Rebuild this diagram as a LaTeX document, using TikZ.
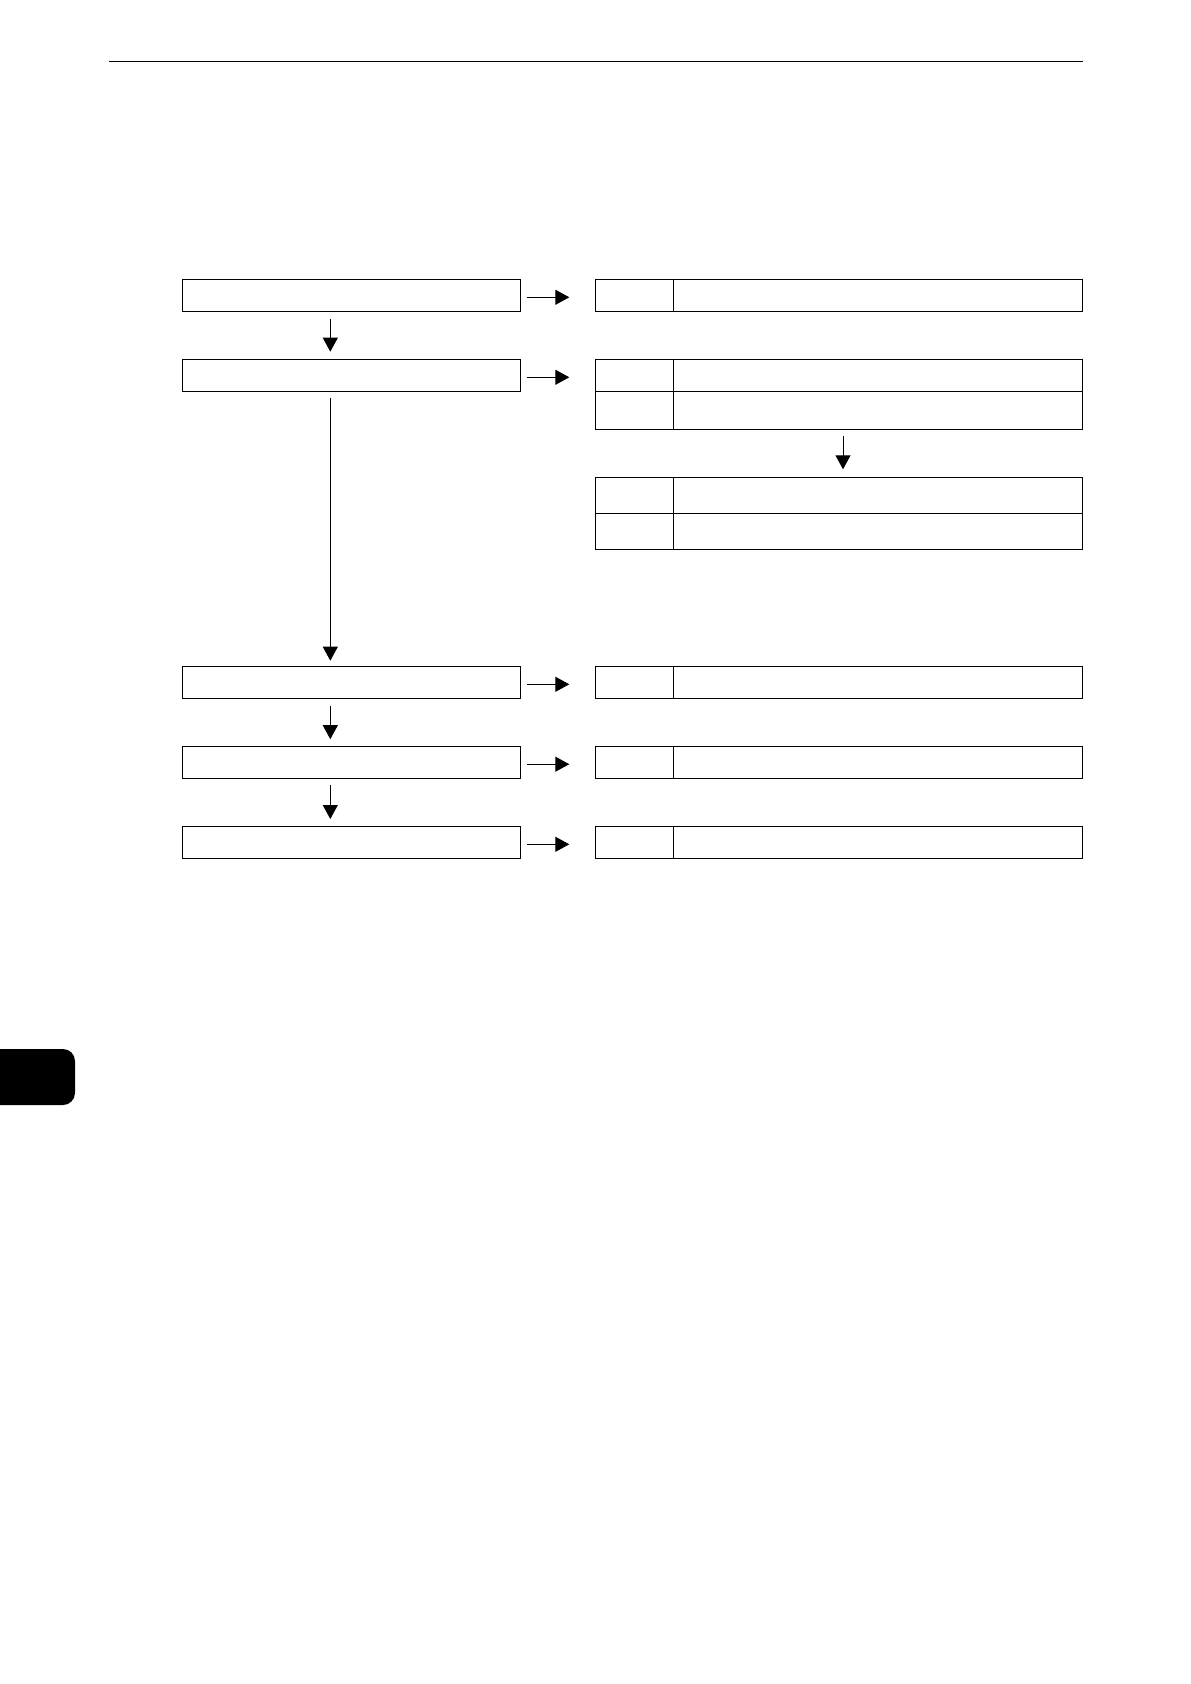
\documentclass[tikz,border=0pt]{standalone}
\usepackage{tikz}
\usetikzlibrary{arrows.meta}

\begin{document}
\begin{tikzpicture}[x=0.5pt, y=-0.5pt, line width=0.7pt,
  stepbox/.style={draw, rectangle, inner sep=0pt, outer sep=0pt, minimum width=169.2pt, minimum height=16pt},
  keybox/.style={draw, rectangle, inner sep=0pt, outer sep=0pt, minimum width=39pt, minimum height=#1},
  keybox/.default=16pt,
  infobox/.style={draw, rectangle, inner sep=0pt, outer sep=0pt, minimum width=204.7pt, minimum height=#1},
  infobox/.default=16pt,
  flow/.style={line width=0.45pt, -{Triangle[length=7pt, width=7.5pt]}}]

\useasboundingbox (0,0) rectangle (1190,1684);

%page header and tab
\draw[line width=0.65pt] (109,61.3) -- (1082.7,61.3);
\fill[rounded corners=6pt] (-20,1049) rectangle (75,1105);

%steps
\node[stepbox] at (351.5, 295.3)(l1){};
\node[stepbox] at (351.5, 375.3)(l2){};
\node[stepbox] at (351.5, 682.3)(l3){};
\node[stepbox] at (351.5, 762.2)(l4){};
\node[stepbox] at (351.5, 842.3)(l5){};

%key cells
\node[keybox] at (634.3, 295.3)(k1){};
\node[keybox] at (634.3, 375.3)(k2){};
\node[keybox=19pt] at (634.3, 410.3)(k3){};
\node[keybox=18pt] at (634.3, 495.3)(k4){};
\node[keybox=18pt] at (634.3, 531.3)(k5){};
\node[keybox] at (634.3, 682.3)(k6){};
\node[keybox] at (634.3, 762.2)(k7){};
\node[keybox] at (634.3, 842.3)(k8){};

%info cells
\node[infobox] at (878, 295.3)(w1){};
\node[infobox] at (878, 375.3)(w2){};
\node[infobox=19pt] at (878, 410.3)(w3){};
\node[infobox=18pt] at (878, 495.3)(w4){};
\node[infobox=18pt] at (878, 531.3)(w5){};
\node[infobox] at (878, 682.3)(w6){};
\node[infobox] at (878, 762.2)(w7){};
\node[infobox] at (878, 842.3)(w8){};

%arrows to the right
\draw[flow, shorten <=3pt, shorten >=13pt] ([yshift=-1pt]l1.east) -- ([yshift=-1pt]k1.west);
\draw[flow, shorten <=3pt, shorten >=13pt] ([yshift=-1pt]l2.east) -- ([yshift=-1pt]k2.west);
\draw[flow, shorten <=3pt, shorten >=13pt] ([yshift=-1pt]l3.east) -- ([yshift=-1pt]k6.west);
\draw[flow, shorten <=3pt, shorten >=13pt] ([yshift=-1pt]l4.east) -- ([yshift=-1pt]k7.west);
\draw[flow, shorten <=3pt, shorten >=13pt] ([yshift=-1pt]l5.east) -- ([yshift=-1pt]k8.west);

%arrows down
\draw[flow, shorten <=3.9pt, shorten >=3.8pt] ([xshift=-10.6pt]l1.south) -- ([xshift=-10.6pt]l2.north);
\draw[flow, shorten <=3.35pt, shorten >=2.8pt] ([xshift=-10.6pt]l2.south) -- ([xshift=-10.6pt]l3.north);
\draw[flow, shorten <=3.7pt, shorten >=3.5pt] ([xshift=-10.6pt]l3.south) -- ([xshift=-10.6pt]l4.north);
\draw[flow, shorten <=3.35pt, shorten >=3.65pt] ([xshift=-10.6pt]l4.south) -- ([xshift=-10.6pt]l5.north);
\draw[flow, shorten <=3.35pt, shorten >=4pt] ([xshift=-17.5pt]w3.south) -- ([xshift=-17.5pt]w4.north);

\end{tikzpicture}
\end{document}
